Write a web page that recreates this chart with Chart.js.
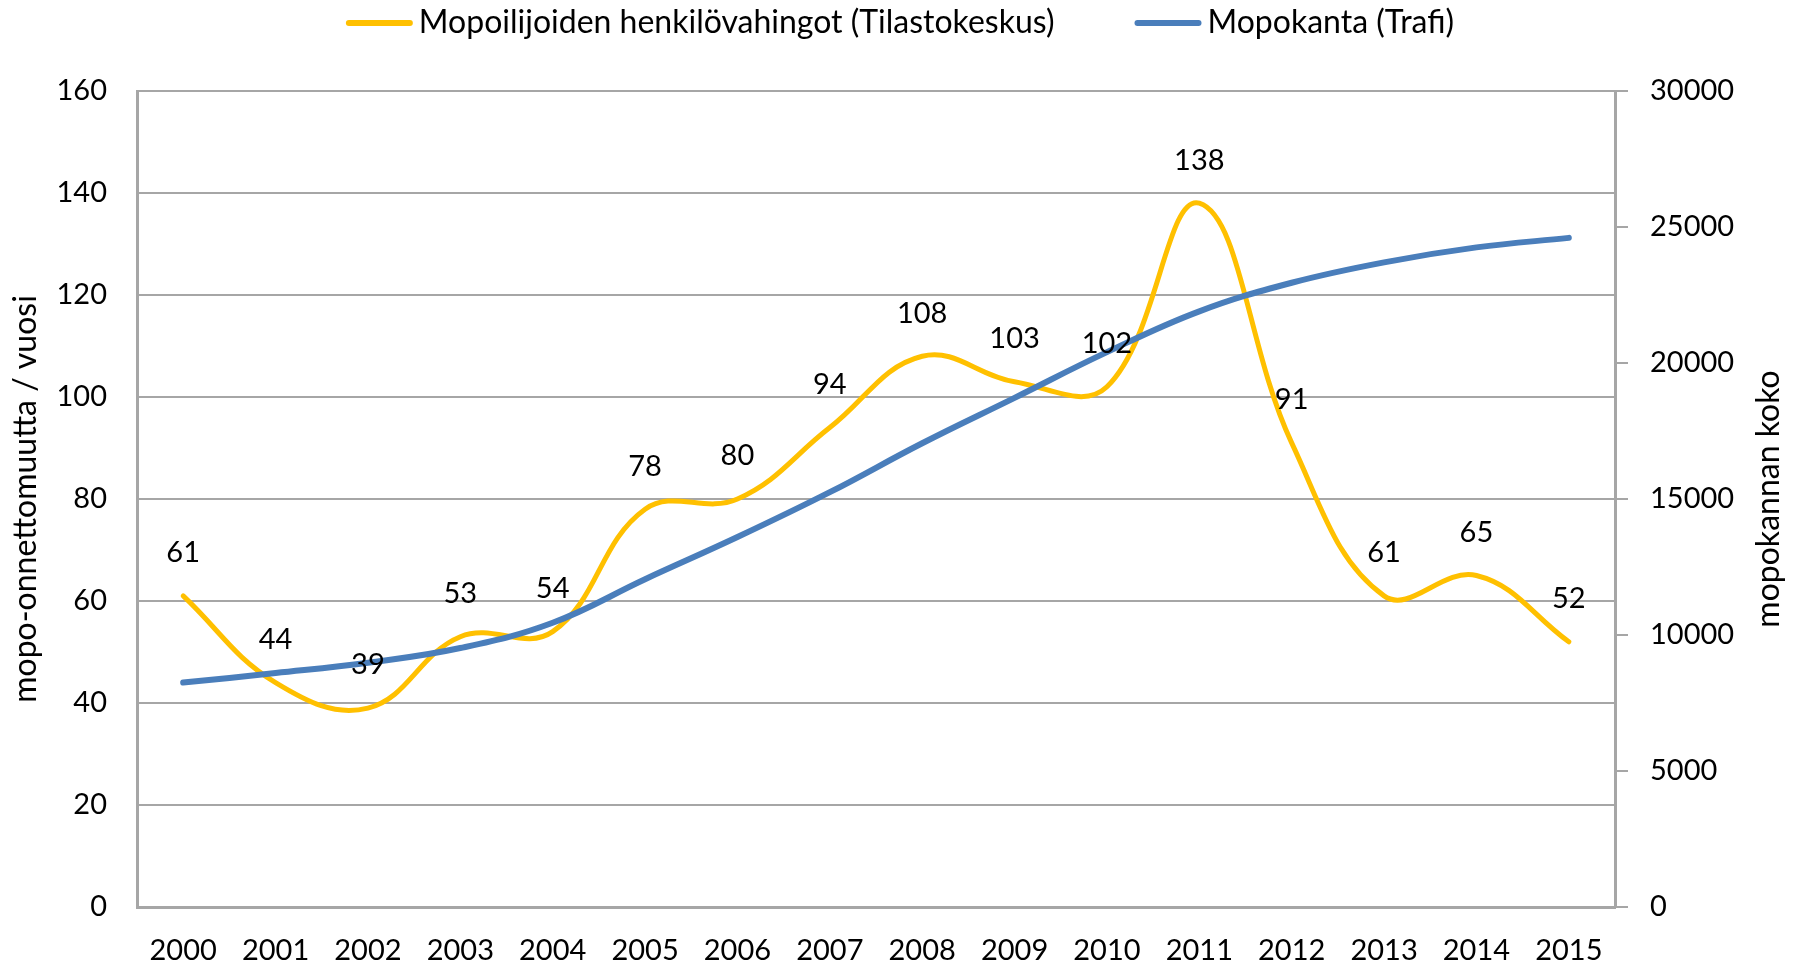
<!DOCTYPE html>
<html>
<head>
<meta charset="utf-8">
<script src="https://cdn.jsdelivr.net/npm/chart.js@4.4.1/dist/chart.umd.min.js"></script>
<style>
  html, body { margin: 0; padding: 0; background: #fff; }
  #wrap { position: relative; width: 1800px; height: 966px; }
</style>
</head>
<body>
<div id="wrap"><canvas id="line-chart"></canvas></div>
<script>
// data
const years = ['2000', '2001', '2002', '2003', '2004', '2005', '2006', '2007',
  '2008', '2009', '2010', '2011', '2012', '2013', '2014', '2015'];
const injuries = [61, 44, 39, 53, 54, 78, 80, 94, 108, 103, 102, 138, 91, 61, 65, 52];
const fleet = [8250, 8600, 8980, 9520, 10450, 12050, 13600, 15250,
  17050, 18720, 20400, 21900, 22950, 23700, 24250, 24600];
const injuriesLabel = 'Mopoilijoiden henkilövahingot (Tilastokeskus)';
const fleetLabel = 'Mopokanta (Trafi)';
const leftTitle = 'mopo-onnettomuutta / vuosi';
const rightTitle = 'mopokannan koko';

const FONT = 'Lato';
const gridGray = '#a6a6a6';

// value labels above the yellow line
const valueLabels = {
  id: 'valueLabels',
  afterDatasetsDraw(chart) {
    const ctx = chart.ctx;
    const meta = chart.getDatasetMeta(0);
    ctx.save();
    ctx.font = '29px ' + FONT;
    ctx.fillStyle = '#000';
    ctx.textAlign = 'center';
    ctx.textBaseline = 'middle';
    meta.data.forEach((pt, i) => {
      ctx.fillText(String(chart.data.datasets[0].data[i]), pt.x, pt.y - 43);
    });
    ctx.restore();
  }
};

// legend on top + right axis title (reads bottom to top like Excel)
const extras = {
  id: 'extras',
  afterDraw(chart) {
    const ctx = chart.ctx;
    ctx.save();
    ctx.font = '32px ' + FONT;
    ctx.fillStyle = '#000';
    ctx.textBaseline = 'middle';
    const boxW = 67, gap = 6, itemGap = 80, cy = 23;
    const items = chart.data.datasets.map(ds => ({
      text: ds.label, color: ds.borderColor, w: ctx.measureText(ds.label).width
    }));
    let total = 0;
    items.forEach((it, i) => { total += boxW + gap + it.w + (i ? itemGap : 0); });
    let x = chart.width / 2 - total / 2;
    items.forEach(it => {
      ctx.strokeStyle = it.color;
      ctx.lineWidth = 6;
      ctx.lineCap = 'round';
      ctx.beginPath();
      ctx.moveTo(x + 3, cy);
      ctx.lineTo(x + boxW - 3, cy);
      ctx.stroke();
      x += boxW + gap;
      ctx.textAlign = 'left';
      ctx.fillText(it.text, x, cy);
      x += it.w + itemGap;
    });

    const area = chart.chartArea;
    ctx.translate(1769, (area.top + area.bottom) / 2);
    ctx.rotate(-Math.PI / 2);
    ctx.textAlign = 'center';
    ctx.fillText(rightTitle, 0, 0);
    ctx.restore();
  }
};

const config = {
  type: 'line',
  data: {
    labels: years,
    datasets: [{
      label: injuriesLabel,
      data: injuries,
      yAxisID: 'y',
      borderColor: '#FFC000',
      backgroundColor: '#FFC000',
      borderWidth: 5,
      tension: 0.4,
      pointRadius: 0,
      borderCapStyle: 'round',
      order: 2
    }, {
      label: fleetLabel,
      data: fleet,
      yAxisID: 'y1',
      borderColor: '#4A7EBB',
      backgroundColor: '#4A7EBB',
      borderWidth: 6,
      tension: 0.4,
      pointRadius: 0,
      borderCapStyle: 'round',
      order: 1
    }]
  },
  options: {
    responsive: true,
    maintainAspectRatio: false,
    animation: false,
    layout: { padding: { top: 91, left: 0, right: 0, bottom: 0 } },
    plugins: {
      legend: { display: false },
      tooltip: { enabled: false }
    },
    scales: {
      x: {
        offset: true,
        grid: { display: false },
        border: { display: true, color: gridGray, width: 3 },
        ticks: { color: '#000', font: { family: FONT, size: 29 }, padding: 18, maxRotation: 0, autoSkip: false },
        afterFit: s => { s.height = 59; }
      },
      y: {
        position: 'left',
        min: 0,
        max: 160,
        ticks: { stepSize: 20, color: '#000', font: { family: FONT, size: 29 }, padding: 30 },
        grid: { color: gridGray, lineWidth: 2, drawTicks: false },
        border: { color: gridGray, width: 3 },
        title: { display: true, text: leftTitle, color: '#000', font: { family: FONT, size: 32 }, padding: { top: 6, bottom: 0 } },
        afterFit: s => { s.width = 137; }
      },
      y1: {
        position: 'right',
        min: 0,
        max: 30000,
        ticks: { stepSize: 5000, color: '#000', font: { family: FONT, size: 29 }, padding: 22,
          callback: v => String(v) },
        grid: { drawOnChartArea: false, drawTicks: true, tickLength: 13, color: gridGray, lineWidth: 2 },
        border: { color: gridGray, width: 3 },
        afterFit: s => { s.width = 185; }
      }
    }
  },
  plugins: [valueLabels, extras]
};

const ctx = document.getElementById('line-chart').getContext('2d');
window.myLine = new Chart(ctx, config);
</script>
</body>
</html>
